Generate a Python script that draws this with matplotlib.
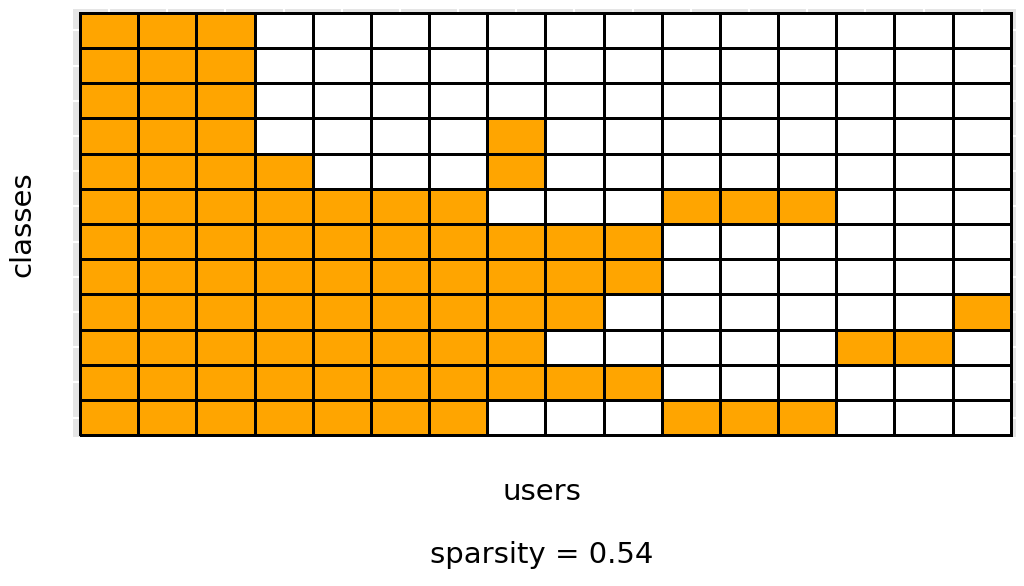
import numpy as np
import matplotlib
matplotlib.use('Agg')
import matplotlib.pyplot as plot
from matplotlib.colors import ListedColormap

# 1 = class present for the user (orange), 0 = missing (white); top row first
rows = [
    [1, 1, 1, 0, 0, 0, 0, 0, 0, 0, 0, 0, 0, 0, 0, 0],
    [1, 1, 1, 0, 0, 0, 0, 0, 0, 0, 0, 0, 0, 0, 0, 0],
    [1, 1, 1, 0, 0, 0, 0, 0, 0, 0, 0, 0, 0, 0, 0, 0],
    [1, 1, 1, 0, 0, 0, 0, 1, 0, 0, 0, 0, 0, 0, 0, 0],
    [1, 1, 1, 1, 0, 0, 0, 1, 0, 0, 0, 0, 0, 0, 0, 0],
    [1, 1, 1, 1, 1, 1, 1, 0, 0, 0, 1, 1, 1, 0, 0, 0],
    [1, 1, 1, 1, 1, 1, 1, 1, 1, 1, 0, 0, 0, 0, 0, 0],
    [1, 1, 1, 1, 1, 1, 1, 1, 1, 1, 0, 0, 0, 0, 0, 0],
    [1, 1, 1, 1, 1, 1, 1, 1, 1, 0, 0, 0, 0, 0, 0, 1],
    [1, 1, 1, 1, 1, 1, 1, 1, 0, 0, 0, 0, 0, 1, 1, 0],
    [1, 1, 1, 1, 1, 1, 1, 1, 1, 1, 0, 0, 0, 0, 0, 0],
    [1, 1, 1, 1, 1, 1, 1, 0, 0, 0, 1, 1, 1, 0, 0, 0],
]
x_label = 'users'
y_label = 'classes'
caption = 'sparsity = 0.54'

data = np.array(rows)
n_rows, n_cols = data.shape

fig = plot.figure(figsize=(10.24, 5.86), dpi=100)
ax = fig.add_axes([73 / 1024, 1 - 437 / 586, 943 / 1024, 428 / 586])
ax.set_facecolor('#e5e5e5')

cmap = ListedColormap(['white', '#ffa500'])
ax.pcolormesh(np.arange(n_cols + 1), np.arange(n_rows + 1), data[::-1],
              cmap=cmap, vmin=0, vmax=1, edgecolors='black', linewidth=2.0,
              zorder=2)

ax.set_xlim(-0.12, n_cols + 0.09)
ax.set_ylim(-0.05, n_rows + 0.11)
ax.set_xticks(np.arange(n_cols) + 0.5)
ax.set_yticks(np.arange(n_rows) + 0.5)
ax.grid(color='white', linewidth=1.5, zorder=1)
ax.set_axisbelow(True)
ax.tick_params(length=0, labelbottom=False, labelleft=False)
for s in ax.spines.values():
    s.set_visible(False)

fig.text(22 / 1024, 1 - 224 / 586, y_label, rotation=90, ha='center',
         va='center', fontsize=21, family='DejaVu Sans')
fig.text(542 / 1024, 1 - 492 / 586, x_label, ha='center', va='center',
         fontsize=21, family='DejaVu Sans')
fig.text(542 / 1024, 1 - 555 / 586, caption, ha='center', va='center',
         fontsize=21, family='DejaVu Sans')

plot.savefig('out.png', dpi=100)
plot.close()
